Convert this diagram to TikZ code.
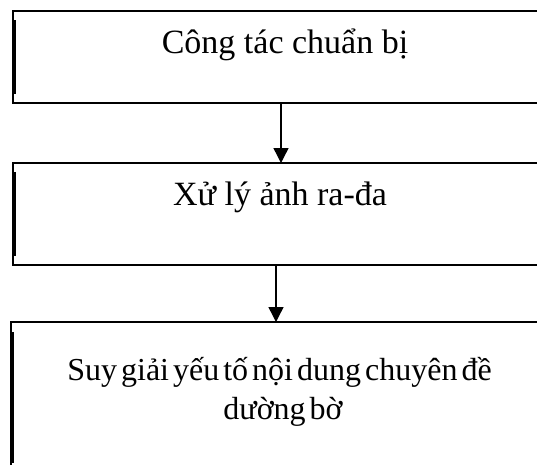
\documentclass[tikz,border=0pt]{standalone}
\usepackage{fontspec}
\setmainfont{Liberation Serif}
\usetikzlibrary{arrows.meta}
\tikzset{
  boxarea/.style={draw=none, inner sep=0pt, outer sep=0pt, rectangle},
  border/.style={line width=1.6pt, line cap=butt},
  inner edge/.style={line width=2pt},
  label/.style={inner sep=0pt, anchor=base, font=\fontsize{34}{40}\selectfont},
  flow/.style={line width=1.4pt, -{Triangle[length=15pt,width=15pt]}}
}
\begin{document}
\begin{tikzpicture}[x=1pt,y=-1pt]
\useasboundingbox (0,0) rectangle (537,464);
% boxes (right side runs beyond the picture)
\node[boxarea, minimum width=532pt, minimum height=92pt] (b1) at (279,57) {};
\node[boxarea, minimum width=532pt, minimum height=102pt] (b2) at (279,214) {};
\node[boxarea, minimum width=534pt, minimum height=153pt] (b3) at (278,398.5) {};
\begin{scope}
\clip (0,0) rectangle (537,464);
\draw[border] (b1.north east) -- (b1.north west) -- (b1.south west) -- (b1.south east);
\draw[border] (b2.north east) -- (b2.north west) -- (b2.south west) -- (b2.south east);
\draw[border] (b3.north east) -- (b3.north west) -- (b3.south west);
\draw[inner edge] ([shift={(1.7,9)}]b1.north west) -- ([shift={(1.7,-9)}]b1.south west);
\draw[inner edge] ([shift={(1.7,9)}]b2.north west) -- ([shift={(1.7,-9)}]b2.south west);
\draw[inner edge] ([shift={(1.7,10)}]b3.north west) -- ([shift={(1.7,-12)}]b3.south west);
\end{scope}
% texts
\node[label] (t1) at (285,53) {Công tác chuẩn bị};
\node[label] (t2) at (280,205) {Xử lý ảnh ra-đa};
\node[label, font=\fontsize{32}{38}\selectfont] (t3) at (279.5,380) {\spaceskip=4pt plus 1pt Suy giải yếu tố nội dung chuyên đề};
\node[label, font=\fontsize{32}{38}\selectfont] (t4) at (283,419) {\spaceskip=4pt plus 1pt dường bờ};
% connectors
\coordinate (a1s) at (281,103);
\coordinate (a2s) at (276,265);
\draw[flow] (a1s) -- (a1s |- b2.north);
\draw[flow] (a2s) -- (a2s |- b3.north);
\end{tikzpicture}
\end{document}
